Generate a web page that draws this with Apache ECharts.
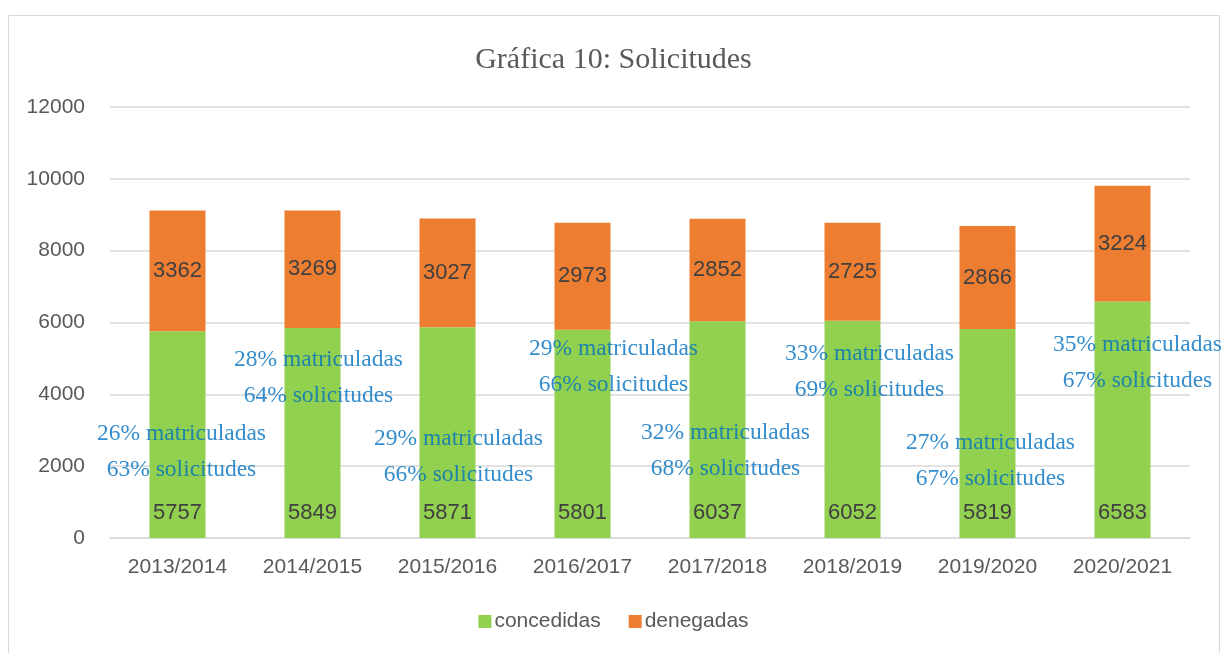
<!DOCTYPE html>
<html>
<head>
<meta charset="utf-8">
<script src="https://cdn.jsdelivr.net/npm/echarts@6/dist/echarts.min.js"></script>
<style>
html,body{margin:0;padding:0;background:#fff;}
#main{width:1227px;height:653px;}
</style>
</head>
<body>
<div id="main"></div>
<script>
var cursos = ['2013/2014','2014/2015','2015/2016','2016/2017','2017/2018','2018/2019','2019/2020','2020/2021'];
var concedidas = [5757, 5849, 5871, 5801, 6037, 6052, 5819, 6583];
var denegadas = [3362, 3269, 3027, 2973, 2852, 2725, 2866, 3224];
// textos azules (cuadros de texto sobre la grafica)
var pctMatriculadas = ['26%', '28%', '29%', '29%', '32%', '33%', '27%', '35%'];
var pctSolicitudes = ['63%', '64%', '66%', '66%', '68%', '69%', '67%', '67%'];
var notaY = [2400, 4450, 2260, 4770, 2430, 4640, 2150, 4870];
var notaDx = [4, 6, 11, 31, 8, 17, 3, 15];

var notas = [];
for (var i = 0; i < cursos.length; i++) {
    notas.push({
        value: [cursos[i], notaY[i]],
        label: { offset: [notaDx[i], 0] },
        m: pctMatriculadas[i],
        s: pctSolicitudes[i]
    });
}

var myChart = echarts.init(document.getElementById('main'));
myChart.setOption({
    animation: false,
    title: {
        text: 'Gráfica 10: Solicitudes',
        left: 'center',
        top: 40,
        textStyle: {
            fontFamily: 'Liberation Serif',
            fontWeight: 'normal',
            fontSize: 30,
            color: '#595959'
        }
    },
    graphic: [{
        type: 'rect',
        shape: { x: 8.5, y: 15.5, width: 1211, height: 660 },
        style: { fill: 'none', stroke: '#D9D9D9', lineWidth: 1 },
        silent: true
    }],
    legend: {
        data: ['concedidas', 'denegadas'],
        bottom: 16,
        left: 'center',
        itemWidth: 13,
        itemHeight: 13,
        itemGap: 28,
        icon: 'rect',
        textStyle: { fontFamily: 'Liberation Sans', fontSize: 21, color: '#595959', padding: [0, 0, 0, -2] }
    },
    grid: { left: 110, right: 37, top: 107, bottom: 115 },
    xAxis: {
        type: 'category',
        data: cursos,
        axisTick: { show: false },
        axisLine: { lineStyle: { color: '#D9D9D9', width: 1.5 } },
        axisLabel: { interval: 0, margin: 19, fontFamily: 'Liberation Sans', fontSize: 21, color: '#595959' }
    },
    yAxis: {
        type: 'value',
        min: 0,
        max: 12000,
        interval: 2000,
        axisLabel: {
            margin: 25,
            fontFamily: 'Liberation Sans',
            fontSize: 21,
            color: '#595959',
            formatter: function (v) { return String(v); }
        },
        splitLine: { lineStyle: { color: '#D9D9D9', width: 1.5 } }
    },
    series: [
        {
            name: 'concedidas',
            type: 'bar',
            stack: 'total',
            barWidth: 56,
            itemStyle: { color: '#92D050' },
            label: {
                show: true,
                position: 'insideBottom',
                distance: 14,
                fontFamily: 'Liberation Sans',
                fontSize: 22,
                color: '#404040'
            },
            data: concedidas
        },
        {
            name: 'denegadas',
            type: 'bar',
            stack: 'total',
            barWidth: 56,
            itemStyle: { color: '#ED7D31' },
            label: {
                show: true,
                position: 'inside',
                fontFamily: 'Liberation Sans',
                fontSize: 22,
                color: '#404040'
            },
            data: denegadas
        },
        {
            name: 'notas',
            type: 'scatter',
            symbolSize: 0,
            silent: true,
            z: 5,
            label: {
                show: true,
                position: 'inside',
                formatter: function (p) {
                    return '{t|' + p.data.m + ' matriculadas}\n{t|' + p.data.s + ' solicitudes}';
                },
                rich: {
                    t: {
                        fontFamily: 'Liberation Serif',
                        fontSize: 23.5,
                        color: '#0070C0',
                        lineHeight: 36,
                        align: 'center'
                    }
                }
            },
            data: notas
        }
    ]
});
</script>
</body>
</html>
